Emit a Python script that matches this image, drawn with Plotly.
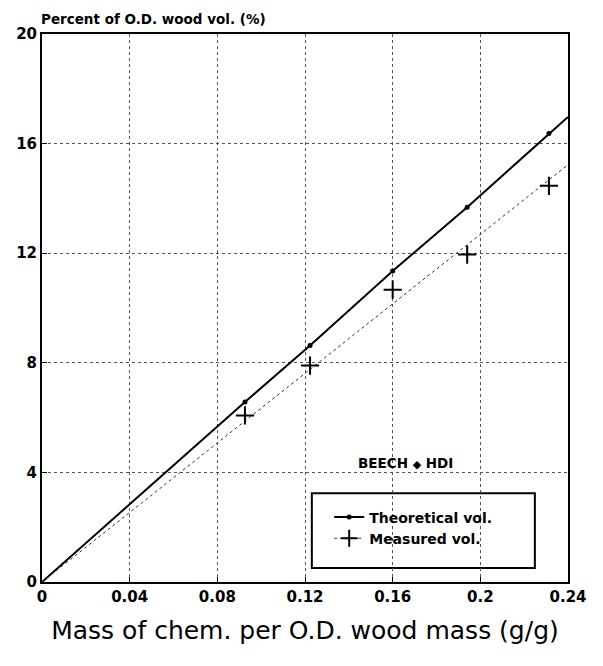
import numpy as np
import plotly.graph_objects as go

# Data
chem_mass = [0.0926, 0.1223, 0.160, 0.194, 0.2313]          # g/g
theoretical_vol = [6.57, 8.63, 11.35, 13.68, 16.37]        # %
measured_vol = [6.08, 7.90, 10.67, 11.95, 14.46]           # %

x_ticks = [0, 0.04, 0.08, 0.12, 0.16, 0.2, 0.24]
x_tick_labels = ["0", "0.04", "0.08", "0.12", "0.16", "0.2", "0.24"]
y_ticks = [0, 4, 8, 12, 16, 20]
x_range = [0, 0.24]
y_range = [0, 20]

# Lines through origin fitted to the data
xa = np.array(chem_mass)
def slope_through_origin(y):
    y = np.array(y)
    return float((xa * y).sum() / (xa * xa).sum())

k_theo = slope_through_origin(theoretical_vol)
k_meas = slope_through_origin(measured_vol)
line_x = np.array(x_range)

FONT = "DejaVu Sans, sans-serif"

fig = go.Figure()

# Theoretical: solid line with small dots
fig.add_trace(go.Scatter(
    x=np.concatenate([[0], xa, [x_range[1]]]),
    y=np.concatenate([[0], np.array(theoretical_vol), [k_theo * x_range[1]]]),
    mode="lines", line=dict(color="black", width=2),
    showlegend=False, hoverinfo="skip"))
fig.add_trace(go.Scatter(
    x=chem_mass, y=theoretical_vol, mode="markers",
    marker=dict(color="black", size=5, symbol="circle"),
    showlegend=False))
# Measured: dotted fitted line + crosses
fig.add_trace(go.Scatter(
    x=line_x, y=k_meas * line_x, mode="lines",
    line=dict(color="#333", width=1, dash="dot"),
    showlegend=False, hoverinfo="skip"))
fig.add_trace(go.Scatter(
    x=chem_mass, y=measured_vol, mode="markers",
    marker=dict(color="black", size=13, symbol="cross-thin",
                line=dict(color="black", width=2)),
    showlegend=False))

# legend entries
fig.add_trace(go.Scatter(
    x=[None], y=[None], mode="lines+markers", name="<b>Theoretical vol.</b>",
    line=dict(color="black", width=2),
    marker=dict(color="black", size=5)))
fig.add_trace(go.Scatter(
    x=[None], y=[None], mode="lines+markers", name="<b>Measured vol.</b>",
    line=dict(color="#333", width=1, dash="dot"),
    marker=dict(color="black", size=12, symbol="cross-thin",
                line=dict(color="black", width=2))))

axis_common = dict(
    showline=True, linecolor="black", linewidth=2, mirror=True,
    showgrid=True, gridcolor="#555", gridwidth=1, griddash="dot",
    zeroline=False, ticks="inside", ticklen=5, tickcolor="black",
    tickfont=dict(family=FONT, size=15, color="black", weight="bold"),
)

fig.update_xaxes(range=x_range, tickvals=x_ticks, ticktext=x_tick_labels,
                 title=dict(text="Mass of chem. per O.D. wood mass (g/g)",
                            font=dict(family=FONT, size=25, color="black"),
                            standoff=16),
                 **axis_common)
fig.update_yaxes(range=y_range, tickvals=y_ticks, **axis_common)

fig.update_layout(
    width=603, height=666,
    margin=dict(l=42, r=35, t=34, b=84),
    paper_bgcolor="white", plot_bgcolor="white",
    font=dict(family=FONT, color="black"),
    legend=dict(x=0.546, y=0.147, xanchor="left", yanchor="top",
                bgcolor="rgba(0,0,0,0)", borderwidth=0,
                font=dict(family=FONT, size=14, color="black"),
                itemwidth=30),
    shapes=[
        dict(type="rect", xref="paper", yref="paper",
             x0=0.513, x1=0.937, y0=0.0255, y1=0.162,
             line=dict(color="black", width=2), fillcolor="white",
             layer="between"),
    ],
    annotations=[
        dict(text="<b>Percent of O.D. wood vol. (%)</b>", xref="paper", yref="paper",
             x=-0.005, y=1, xanchor="left", yanchor="bottom", yshift=5, showarrow=False,
             font=dict(family=FONT, size=13.5, color="black")),
        dict(text="<b>BEECH <span style='font-size:11px'>\u25c6</span> HDI</b>",
             xref="x", yref="y", x=0.166, y=4.35, showarrow=False,
             font=dict(family=FONT, size=13.5, color="black")),
    ],
)

fig.write_html("out.html")
